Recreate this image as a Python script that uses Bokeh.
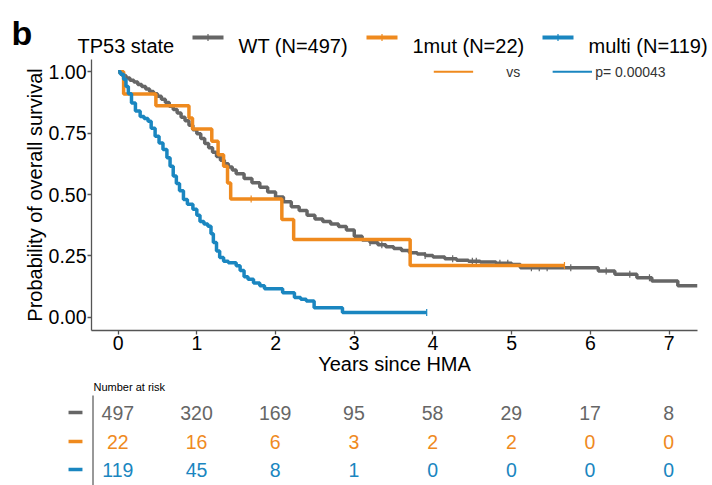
import numpy as np
from bokeh.plotting import figure
from bokeh.layouts import column
from bokeh.models import Range1d, FixedTicker, NumeralTickFormatter
from bokeh.core.properties import value
from bokeh.embed import file_html
from bokeh.resources import INLINE

FONT = "Liberation Sans"

# ---------------- data ----------------
GROUPS = ["WT (N=497)", "1mut (N=22)", "multi (N=119)"]
COLORS = ["#666666", "#EF8A1E", "#1A86C0"]

WT_TIME = [0, 0.05, 0.10, 0.15, 0.20, 0.25, 0.30, 0.35, 0.40, 0.45, 0.50, 0.55, 0.60, 0.65, 0.70,
           0.75, 0.80, 0.85, 0.90, 0.95, 1.00, 1.05, 1.10, 1.15, 1.20, 1.25, 1.30, 1.35, 1.40, 1.45,
           1.50, 1.60, 1.70, 1.80, 1.90, 2.00, 2.10, 2.20, 2.30, 2.40, 2.50, 2.60, 2.70, 2.80, 2.90,
           3.00, 3.10, 3.20, 3.30, 3.40, 3.50, 3.60, 3.70, 3.80, 3.90, 4.00, 4.15, 4.30, 4.45, 4.60,
           4.80, 5.00, 5.11, 6.10, 6.31, 6.59, 6.78, 7.11, 7.36]
WT_SURV = [1.0, 0.985, 0.975, 0.965, 0.958, 0.948, 0.94, 0.93, 0.92, 0.91, 0.90, 0.888, 0.875, 0.86, 0.846,
           0.832, 0.815, 0.80, 0.782, 0.764, 0.748, 0.728, 0.708, 0.69, 0.672, 0.655, 0.64, 0.625, 0.612, 0.60,
           0.585, 0.565, 0.548, 0.53, 0.51, 0.49, 0.47, 0.45, 0.435, 0.415, 0.40, 0.39, 0.38, 0.37, 0.355,
           0.33, 0.315, 0.305, 0.295, 0.287, 0.28, 0.272, 0.263, 0.258, 0.252, 0.245, 0.238, 0.232, 0.228, 0.225,
           0.22, 0.215, 0.202, 0.188, 0.175, 0.161, 0.148, 0.128, 0.128]
WT_CENSOR = [3.2, 3.35, 3.9, 4.25, 4.5, 4.55, 4.85, 4.95, 5.25, 5.35, 5.45, 5.75, 6.2, 6.5, 6.75]

MUT_TIME = [0, 0.07, 0.48, 0.90, 0.945, 1.19, 1.27, 1.34, 1.39, 1.43, 2.08, 2.23, 3.71, 5.67]
MUT_SURV = [1.0, 0.909, 0.862, 0.812, 0.767, 0.717, 0.662, 0.615, 0.547, 0.482, 0.398, 0.317, 0.211, 0.211]
MUT_CENSOR = [1.69, 5.67]

MULTI_TIME = [0, 0.03, 0.07, 0.10, 0.13, 0.17, 0.22, 0.28, 0.33, 0.38, 0.42, 0.47, 0.52, 0.57, 0.62,
              0.66, 0.70, 0.74, 0.78, 0.83, 0.88, 0.95, 1.00, 1.04, 1.09, 1.14, 1.18, 1.21, 1.25, 1.29,
              1.34, 1.40, 1.50, 1.55, 1.60, 1.65, 1.72, 1.80, 1.86, 2.09, 2.24, 2.32, 2.39, 2.49, 2.85, 3.92]
MULTI_SURV = [1.0, 0.99, 0.97, 0.94, 0.91, 0.873, 0.84, 0.818, 0.81, 0.798, 0.77, 0.737, 0.71, 0.683, 0.65,
              0.615, 0.575, 0.545, 0.515, 0.48, 0.46, 0.44, 0.415, 0.39, 0.38, 0.371, 0.34, 0.304, 0.27, 0.243,
              0.228, 0.222, 0.21, 0.19, 0.165, 0.155, 0.14, 0.128, 0.116, 0.10, 0.08, 0.073, 0.066, 0.039, 0.019, 0.019]
MULTI_CENSOR = [3.92]

RISK_TIMES = [0, 1, 2, 3, 4, 5, 6, 7]
WT_RISK = [497, 320, 169, 95, 58, 29, 17, 8]
MUT_RISK = [22, 16, 6, 3, 2, 2, 0, 0]
MULTI_RISK = [119, 45, 8, 1, 0, 0, 0, 0]

X_TICKS = [0, 1, 2, 3, 4, 5, 6, 7]
Y_TICKS = [0, 0.25, 0.5, 0.75, 1.0]
P_TEXT = "p= 0.00043"

CURVES = [(WT_TIME, WT_SURV, WT_CENSOR), (MUT_TIME, MUT_SURV, MUT_CENSOR), (MULTI_TIME, MULTI_SURV, MULTI_CENSOR)]
RISKS = [WT_RISK, MUT_RISK, MULTI_RISK]

W = 712

# ---------------- legend strip ----------------
LH = 58
leg = figure(width=W, height=LH, x_range=Range1d(0, W), y_range=Range1d(LH, 0),
             output_backend="svg", toolbar_location=None, min_border=0,
             x_axis_location=None, y_axis_location=None, frame_align=False)
leg.grid.visible = False
leg.outline_line_color = None
leg.text(x=[11], y=[32], text=["b"], text_font=value(FONT), text_font_size="34px",
         text_font_style="bold", text_baseline="alphabetic", text_align="left", text_color="black")
leg.text(x=[77], y=[45], text=["TP53 state"], text_font=value(FONT), text_font_size="20px",
         text_baseline="alphabetic", text_align="left", text_color="black")
sw_x0 = [192, 366, 542]
for i, (lab, col) in enumerate(zip(GROUPS, COLORS)):
    leg.segment(x0=[sw_x0[i]], x1=[sw_x0[i] + 31], y0=[37], y1=[37], line_color=col, line_width=4)
    leg.scatter(x=[sw_x0[i] + 15.5], y=[37], marker="dash", angle=np.pi / 2, size=7,
                line_color=col, line_width=1.2)
    leg.text(x=[sw_x0[i] + 46], y=[45], text=[lab], text_font=value(FONT), text_font_size="20px",
             text_baseline="alphabetic", text_align="left", text_color="black")

# ---------------- KM plot ----------------
KH = 322
p = figure(width=W, height=KH, x_range=Range1d(-0.338, 7.36), y_range=Range1d(-0.054, 1.05),
           output_backend="svg", toolbar_location=None, frame_align=False,
           min_border_left=91, min_border_right=15, min_border_top=1, min_border_bottom=KH - 272)
p.grid.visible = False
p.outline_line_color = None
p.background_fill_color = "white"
p.border_fill_color = "white"

for (t, s, cens), col in zip(CURVES, COLORS):
    p.step(x=t, y=s, mode="after", line_color=col, line_width=3.5)
    tt = np.array(t)
    ss = np.array(s)
    idx = np.searchsorted(tt, np.array(cens), side="right") - 1
    p.scatter(x=cens, y=ss[idx], marker="dash", angle=np.pi / 2, size=7, line_color=col, line_width=1.2)

# p-value annotation
p.segment(x0=[4.01], x1=[4.51], y0=[1.0], y1=[1.0], line_color=COLORS[1], line_width=2)
p.text(x=[4.93], y=[1.0], text=["vs"], text_font=value(FONT), text_font_size="14px",
       text_baseline="middle", text_align="left", text_color="#333333")
p.segment(x0=[5.52], x1=[6.02], y0=[1.0], y1=[1.0], line_color=COLORS[2], line_width=2)
p.text(x=[6.06], y=[1.0], text=[P_TEXT], text_font=value(FONT), text_font_size="14px",
       text_baseline="middle", text_align="left", text_color="#333333")

p.xaxis.ticker = FixedTicker(ticks=X_TICKS)
p.yaxis.ticker = FixedTicker(ticks=Y_TICKS)
p.yaxis.formatter = NumeralTickFormatter(format="0.00")
p.xaxis.axis_label = "Years since HMA"
p.yaxis.axis_label = "Probability of overall survival"
for ax in (p.xaxis[0], p.yaxis[0]):
    ax.axis_line_color = "#555555"
    ax.axis_line_width = 1.3
    ax.major_tick_line_color = "#555555"
    ax.major_tick_line_width = 1.3
    ax.major_tick_in = 0
    ax.major_tick_out = 4
    ax.minor_tick_line_color = None
    ax.major_label_standoff = 1
    ax.axis_label_standoff = 0
    ax.major_label_text_font = FONT
    ax.major_label_text_font_size = "19.5px"
    ax.major_label_text_color = "black"
    ax.axis_label_text_font = FONT
    ax.axis_label_text_font_size = "20px"
    ax.axis_label_text_font_style = "normal"
    ax.axis_label_text_color = "black"

# ---------------- risk table ----------------
RH = 485 - LH - KH
TOP = LH + KH   # page y of the table strip
X0 = 117.3      # pixel of t=0
PX = 78.7       # pixels per year
r = figure(width=W, height=RH, x_range=Range1d(-X0 / PX, (W - X0) / PX), y_range=Range1d(RH, 0),
           output_backend="svg", toolbar_location=None, min_border=0, frame_align=False,
           x_axis_location=None, y_axis_location=None)
r.grid.visible = False
r.outline_line_color = None
r.text(x=[-0.309], y=[max(385 - TOP, 6)], text=["Number at risk"], text_font=value(FONT),
       text_font_size="11px", text_baseline="middle", text_align="left", text_color="black")
r.segment(x0=[-0.315], x1=[-0.315], y0=[395 - TOP], y1=[RH], line_color="#333333", line_width=1)
row_y = [412 - TOP, 441 - TOP, 469 - TOP]
for vals, col, yy in zip(RISKS, COLORS, row_y):
    r.segment(x0=[-0.626], x1=[-0.449], y0=[yy], y1=[yy], line_color=col, line_width=3.5)
    r.text(x=RISK_TIMES, y=[yy] * len(RISK_TIMES), text=[str(v) for v in vals],
           text_font=value(FONT), text_font_size="19.5px", text_baseline="middle",
           text_align="center", text_color=col)

layout = column(leg, p, r)
open("out.html", "w").write(file_html(layout, INLINE))
